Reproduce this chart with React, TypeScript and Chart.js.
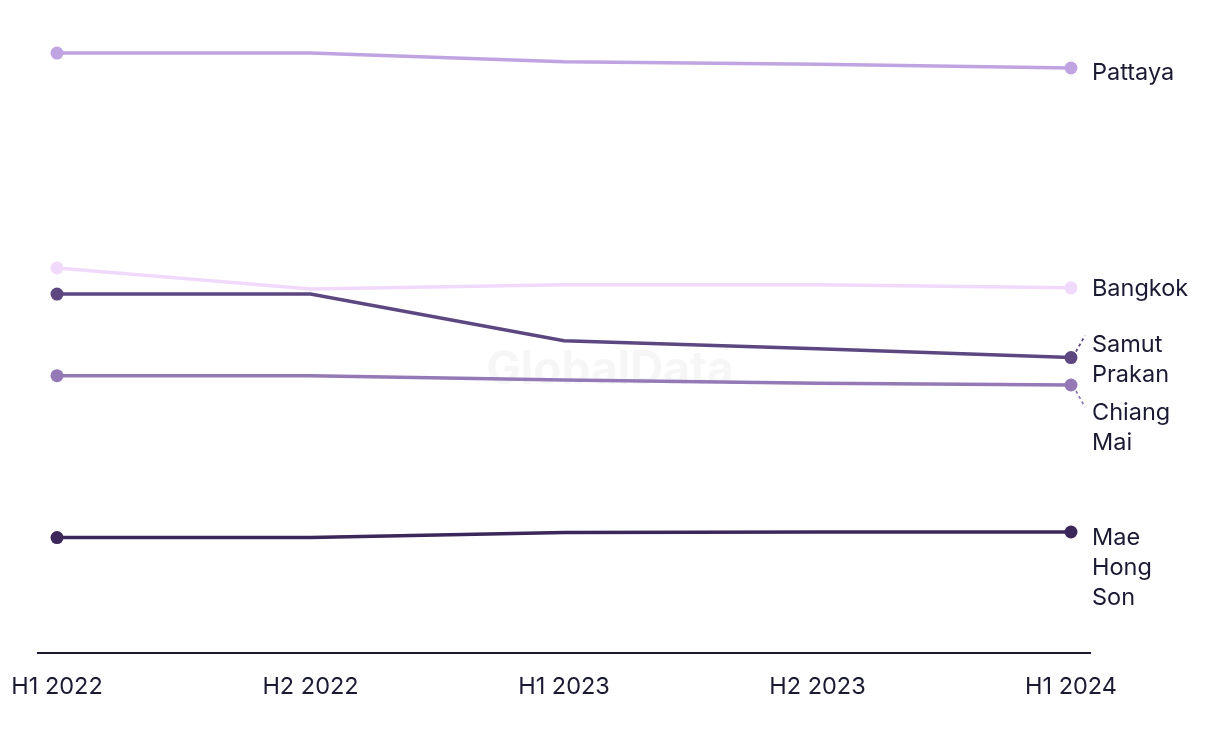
import React, { useEffect, useRef } from "react";
import { Chart, registerables } from "chart.js";

Chart.register(...registerables);

const categories = ["H1 2022", "H2 2022", "H1 2023", "H2 2023", "H1 2024"];
const seriesNames = ["Pattaya", "Bangkok", "Samut Prakan", "Chiang Mai", "Mae Hong Son"];
const pattaya = [96.3, 96.3, 94.9, 94.5, 93.9];
const bangkok = [61.8, 58.4, 59.1, 59.1, 58.6];
const samutPrakan = [57.6, 57.6, 50.1, 48.8, 47.4];
const chiangMai = [44.5, 44.5, 43.8, 43.3, 43.0];
const maeHongSon = [18.5, 18.5, 19.3, 19.4, 19.4];
const colors = ["#c0a3e1", "#f1d9fb", "#5d4781", "#9479b6", "#3b2759"];

const labelLines = [["Pattaya"], ["Bangkok"], ["Samut", "Prakan"], ["Chiang", "Mai"], ["Mae", "Hong", "Son"]];
const labelDy = [5, 1, -13, 28, 6];
const leader = [0, 0, -1, 1, 0];

const TEXT = "#1b1a33";
const FONT = "Inter, 'Noto Sans', sans-serif";

export default function App() {
  const ref = useRef<HTMLCanvasElement>(null);
  useEffect(() => {
    document.body.style.margin = "0";
    const values = [pattaya, bangkok, samutPrakan, chiangMai, maeHongSon];
    const labelsPlugin = {
      id: "endLabels",
      beforeDatasetsDraw(chart: any) {
        const ctx = chart.ctx;
        ctx.save();
        ctx.font = `bold 46px ${FONT}`;
        ctx.fillStyle = "rgba(0,0,0,0.035)";
        ctx.textAlign = "center";
        ctx.textBaseline = "middle";
        ctx.fillText("GlobalData", 610, 370);
        ctx.restore();
      },
      afterDatasetsDraw(chart: any) {
        const ctx = chart.ctx;
        ctx.save();
        ctx.font = `23.5px ${FONT}`;
        ctx.fillStyle = TEXT;
        ctx.textAlign = "left";
        ctx.textBaseline = "middle";
        chart.data.datasets.forEach((ds: any, i: number) => {
          const meta = chart.getDatasetMeta(i);
          const pt = meta.data[meta.data.length - 1];
          const x = pt.x + 21;
          const y0 = pt.y + labelDy[i];
          labelLines[i].forEach((ln, j) => ctx.fillText(ln, x, y0 + j * 30));
          if (leader[i] !== 0) {
            ctx.save();
            ctx.strokeStyle = colors[i];
            ctx.lineWidth = 1.8;
            ctx.setLineDash([3, 3]);
            ctx.beginPath();
            ctx.moveTo(pt.x + 5, pt.y + leader[i] * 6);
            ctx.lineTo(pt.x + 14, pt.y + leader[i] * 22);
            ctx.stroke();
            ctx.restore();
          }
        });
        ctx.restore();
      },
    };
    const chart = new Chart(ref.current!, {
      type: "line",
      data: {
        datasets: values.map((v, i) => ({
          label: seriesNames[i],
          data: v.map((y, k) => ({ x: k, y })),
          borderColor: colors[i],
          backgroundColor: colors[i],
          pointBackgroundColor: colors[i],
          pointBorderWidth: 0,
          pointRadius: v.map((_, k) => (k === 0 || k === v.length - 1 ? 6.5 : 0)),
          borderWidth: 3.5,
          tension: 0,
        })),
      },
      options: {
        animation: false,
        responsive: false,
        layout: { padding: { left: 38, right: 130, top: 30, bottom: 23 } },
        plugins: { legend: { display: false }, tooltip: { enabled: false } },
        scales: {
          x: {
            type: "linear",
            min: -0.075,
            max: 4.075,
            afterBuildTicks: (s: any) => {
              s.ticks = categories.map((_, k) => ({ value: k }));
            },
            afterFit: (s: any) => {
              s.paddingLeft = 0;
              s.paddingRight = 0;
            },
            ticks: {
              callback: (v: any) => categories[v as number] ?? "",
              color: TEXT,
              font: { family: FONT, size: 23.5 },
              padding: 20,
              maxRotation: 0,
              autoSkip: false,
            },
            grid: { display: false, drawTicks: false },
            border: { display: true, color: TEXT, width: 2 },
          },
          y: { display: false, min: 0, max: 100 },
        },
      },
      plugins: [labelsPlugin],
    });
    return () => chart.destroy();
  }, []);
  return <canvas ref={ref} width={1220} height={744} style={{ display: "block" }} />;
}
